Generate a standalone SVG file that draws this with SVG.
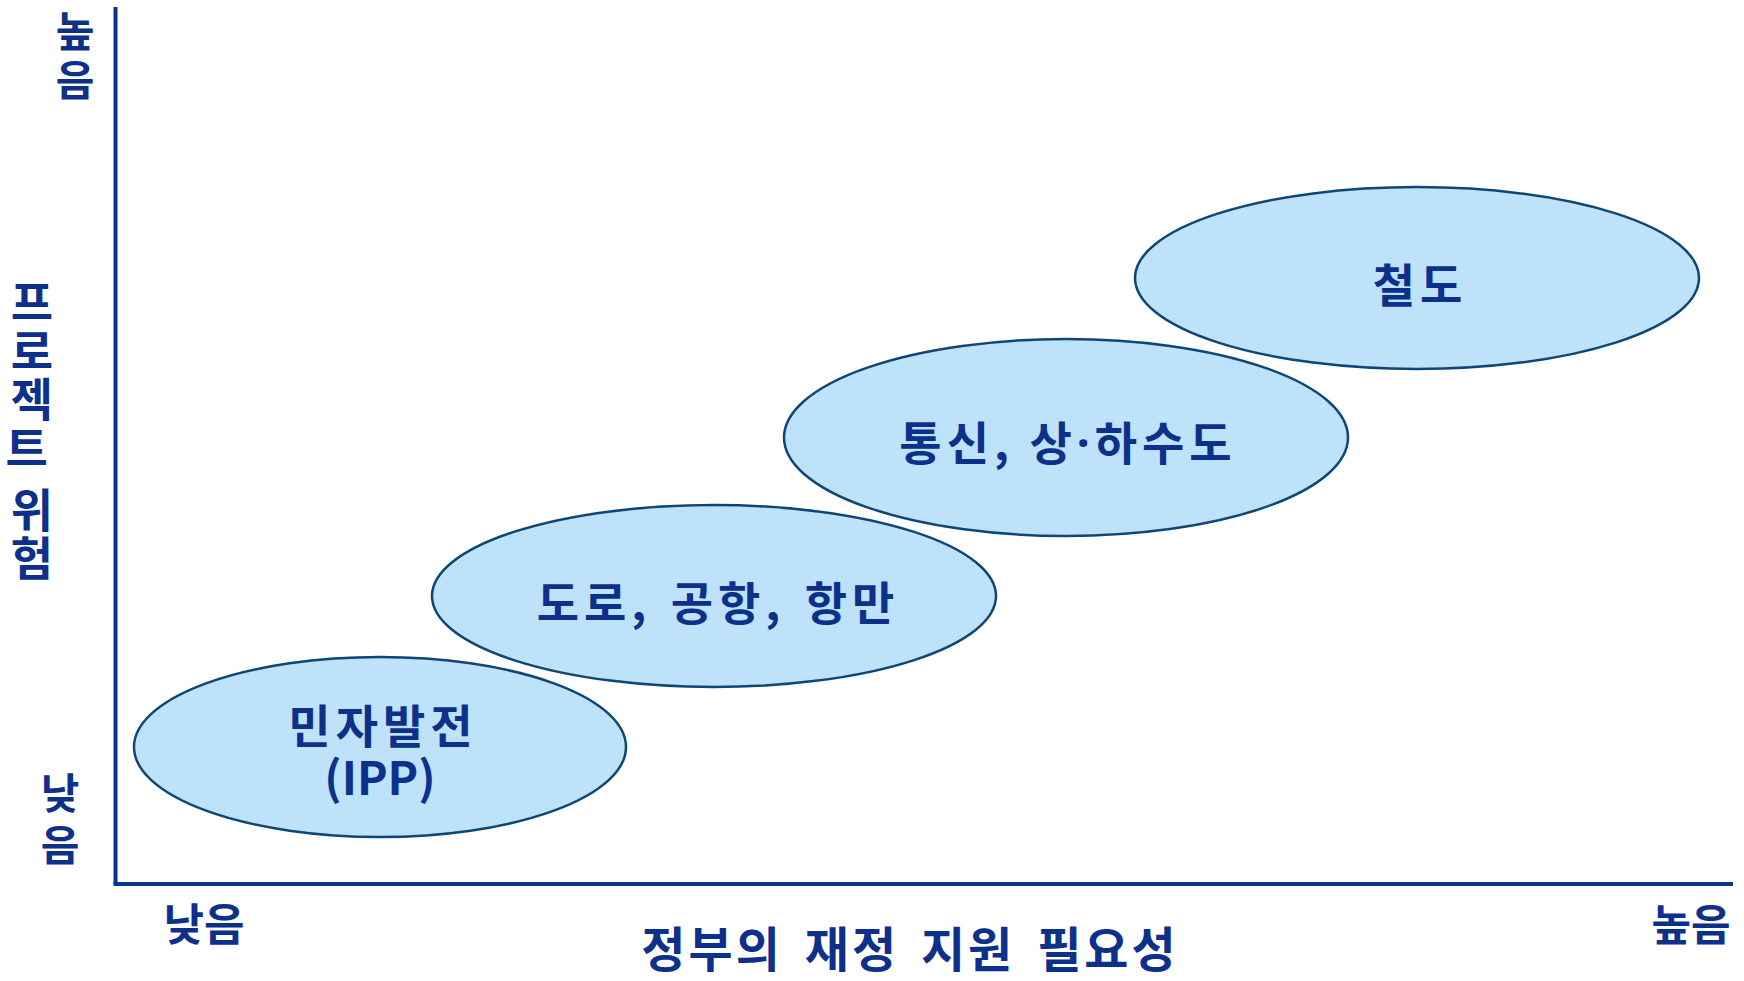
<svg xmlns="http://www.w3.org/2000/svg" width="1744" height="981" viewBox="0 0 1744 981">
<style>
.bg{fill:#ffffff}
.ell{fill:#BDE2FA;stroke:#0E4775;stroke-width:2.5}
.axis{stroke:#0B3390;stroke-width:4;fill:none}
.lbl{font-family:"Noto Sans CJK KR","Noto Sans",sans-serif;font-weight:bold;fill:#0D318A;text-anchor:middle}
.big{font-size:46px}
.sm{font-size:42px}
.sp{letter-spacing:5px}
.dot{font-family:"Noto Sans",sans-serif}
</style>
<rect class="bg" x="0" y="0" width="1744" height="981"/>
<g id="axes">
<line class="axis" x1="115.5" y1="7" x2="115.5" y2="884"/>
<line class="axis" x1="113.5" y1="884" x2="1733" y2="884"/>
</g>
<g id="axis-labels">
<text class="lbl sm"><tspan x="75" y="47">높</tspan><tspan x="75" y="96">음</tspan></text>
<text class="lbl sm"><tspan x="60" y="809">낮</tspan><tspan x="60" y="861">음</tspan></text>
<text class="lbl big"><tspan x="32" y="319">프</tspan><tspan x="32" y="368">로</tspan><tspan x="32" y="416">젝</tspan><tspan x="32" y="465">트</tspan> <tspan x="32" y="527">위</tspan><tspan x="32" y="575">험</tspan></text>
<text class="lbl" x="204" y="941" style="font-size:44px">낮음</text>
<text class="lbl" x="1691" y="941" style="font-size:43px">높음</text>
<text class="lbl" x="910" y="967" style="font-size:48px;letter-spacing:3px;word-spacing:8px">정부의 재정 지원 필요성</text>
</g>
<g id="node-ipp">
<ellipse class="ell" cx="380" cy="747" rx="246" ry="90"/>
<text class="lbl big sp"><tspan x="383" y="743">민자발전</tspan><tspan x="380" y="795" style="letter-spacing:0px">(IPP)</tspan></text>
</g>
<g id="node-road">
<ellipse class="ell" cx="714" cy="596" rx="282" ry="91"/>
<text class="lbl big sp" x="718" y="620" style="word-spacing:4px">도로, 공항, 항만</text>
</g>
<g id="node-telecom">
<ellipse class="ell" cx="1066" cy="437.5" rx="282" ry="98.5"/>
<text class="lbl big sp" x="1068" y="460">통신, 상<tspan class="dot">·</tspan>하수도</text>
</g>
<g id="node-rail">
<ellipse class="ell" cx="1417" cy="278" rx="282" ry="91"/>
<text class="lbl big sp" x="1420" y="302">철도</text>
</g>
<g id="connectors"></g>
</svg>
